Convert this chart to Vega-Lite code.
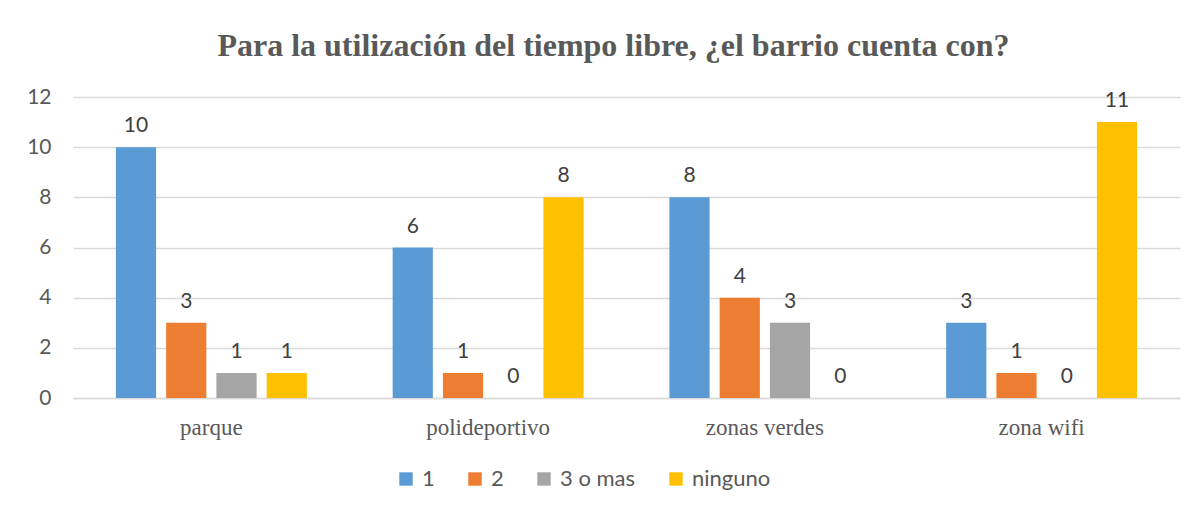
{
  "$schema": "https://vega.github.io/schema/vega-lite/v6.json",
  "width": 1107,
  "height": 301,
  "autosize": {"type": "none"},
  "padding": {"left": 73, "top": 97, "right": 24, "bottom": 112},
  "background": "white",
  "title": {
    "text": "Para la utilización del tiempo libre, ¿el barrio cuenta con?",
    "font": "Liberation Serif",
    "fontSize": 32,
    "fontWeight": "bold",
    "color": "#595959",
    "anchor": "middle",
    "dx": -13,
    "offset": 23
  },
  "data": {
    "values": [
      {"lugar": "parque", "serie": "1", "valor": 10},
      {"lugar": "parque", "serie": "2", "valor": 3},
      {"lugar": "parque", "serie": "3 o mas", "valor": 1},
      {"lugar": "parque", "serie": "ninguno", "valor": 1},
      {"lugar": "polideportivo", "serie": "1", "valor": 6},
      {"lugar": "polideportivo", "serie": "2", "valor": 1},
      {"lugar": "polideportivo", "serie": "3 o mas", "valor": 0},
      {"lugar": "polideportivo", "serie": "ninguno", "valor": 8},
      {"lugar": "zonas verdes", "serie": "1", "valor": 8},
      {"lugar": "zonas verdes", "serie": "2", "valor": 4},
      {"lugar": "zonas verdes", "serie": "3 o mas", "valor": 3},
      {"lugar": "zonas verdes", "serie": "ninguno", "valor": 0},
      {"lugar": "zona wifi", "serie": "1", "valor": 3},
      {"lugar": "zona wifi", "serie": "2", "valor": 1},
      {"lugar": "zona wifi", "serie": "3 o mas", "valor": 0},
      {"lugar": "zona wifi", "serie": "ninguno", "valor": 11}
    ]
  },
  "encoding": {
    "x": {
      "field": "lugar",
      "type": "nominal",
      "sort": ["parque", "polideportivo", "zonas verdes", "zona wifi"],
      "scale": {"paddingInner": 0.31, "paddingOuter": 0.155},
      "axis": {
        "title": null,
        "labelAngle": 0,
        "labelFont": "Liberation Serif",
        "labelFontSize": 23,
        "labelColor": "#595959",
        "labelPadding": 18,
        "ticks": false,
        "domain": true,
        "domainColor": "#d9d9d9",
        "domainWidth": 1.5
      }
    },
    "xOffset": {
      "field": "serie",
      "type": "nominal",
      "sort": ["1", "2", "3 o mas", "ninguno"],
      "scale": {"paddingInner": 0.2}
    },
    "y": {
      "field": "valor",
      "type": "quantitative",
      "scale": {"domain": [0, 12]},
      "axis": {
        "title": null,
        "values": [0, 2, 4, 6, 8, 10, 12],
        "labelFont": "Lato",
        "labelFontSize": 21,
        "labelColor": "#595959",
        "labelPadding": 22,
        "ticks": false,
        "domain": false,
        "gridColor": "#d9d9d9",
        "gridWidth": 1.5
      }
    }
  },
  "layer": [
    {
      "mark": {"type": "bar"},
      "encoding": {
        "color": {
          "field": "serie",
          "type": "nominal",
          "sort": ["1", "2", "3 o mas", "ninguno"],
          "scale": {
            "domain": ["1", "2", "3 o mas", "ninguno"],
            "range": ["#5B9BD5", "#ED7D31", "#A5A5A5", "#FFC000"]
          },
          "legend": {
            "title": null,
            "orient": "none",
            "direction": "horizontal",
            "legendX": 322,
            "legendY": 371,
            "symbolType": "square",
            "symbolSize": 180,
            "symbolStrokeWidth": 0,
            "symbolOpacity": 1,
            "labelFont": "Lato",
            "labelFontSize": 22,
            "labelColor": "#595959",
            "labelOffset": 5,
            "columnPadding": 29
          }
        }
      }
    },
    {
      "mark": {
        "type": "text",
        "baseline": "bottom",
        "dy": -11,
        "font": "Lato",
        "fontSize": 21,
        "color": "#404040"
      },
      "encoding": {
        "text": {"field": "valor", "type": "quantitative"}
      }
    }
  ],
  "config": {
    "view": {"stroke": null}
  }
}
